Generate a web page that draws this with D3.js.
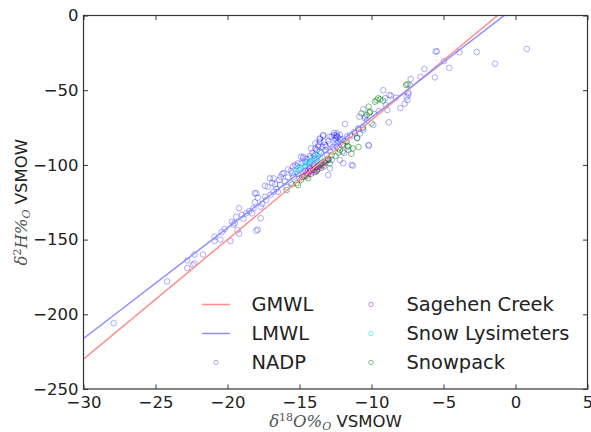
<!DOCTYPE html>
<html>
<head>
<meta charset="utf-8">
<script src="https://cdn.jsdelivr.net/npm/d3@7"></script>
<style>
	body { margin: 0; background: #fff; }
	text { font-family: "DejaVu Sans", sans-serif; }
</style>
</head>
<body>
<div id="chart-area"></div>
<script>

// NADP precipitation samples [d18O, d2H]
var nadp = [
	[-27.9,-206], [-24.2,-178], [-22.8,-169], [-22.8,-164], [-22.3,-160], [-22.3,-166],
	[-22.4,-167], [-21.7,-160], [-20.9,-148], [-20.9,-151], [-20.4,-145], [-20.5,-150],
	[-19.8,-151], [-19.6,-140], [-19.2,-146], [-19.7,-138], [-19.3,-143.6], [-19.2,-129],
	[-19.4,-134.7], [-19.0,-133.5], [-18.7,-132.4], [-18.3,-132.4], [-18.0,-144], [-17.9,-143.3],
	[-18.0,-119], [-17.7,-128], [-18.2,-129], [-17.7,-135.7], [-17.3,-123.5], [-17.05,-109],
	[-17.2,-114.6], [-17.4,-121.3], [-16.8,-117.9], [-17.4,-114], [-20.2,-143], [-19.5,-139],
	[-18.9,-136], [-18.5,-131], [-18.1,-125], [-17.6,-126], [-17.9,-122], [-17.0,-120],
	[-16.6,-116], [-16.9,-112], [-18.1,-119], [-16.1,-105.6], [-15.45,-101],
	[-16.35,-113.4], [-16.8,-109], [-16.2,-106], [-15.8,-108.3], [-15.4,-107.9], [-16.0,-111],
	[-15.6,-104], [-15.3,-100], [-15.0,-103.4], [-14.9,-94.5], [-14.85,-98.9], [-14.74,-94.5],
	[-14.27,-95.6], [-14.27,-97.9], [-15.6,-112], [-15.1,-106], [-14.6,-101], [-14.4,-104],
	[-15.9,-115], [-16.5,-118], [-14.0,-100], [-13.8,-96], [-15.1,-98.9], [-14.74,-95.6],
	[-14.27,-94], [-13.6,-82.9], [-13.35,-80], [-12.9,-81], [-13.7,-87.8], [-12.5,-82.2],
	[-12.4,-85.5], [-12.88,-91.1], [-11.96,-98.9], [-11.3,-100.5], [-13.0,-106.8], [-13.58,-82.2],
	[-13.23,-86.7], [-12.76,-96.7], [-12.2,-96.7], [-11.38,-100], [-12.88,-102.3], [-13.2,-90],
	[-13.5,-92], [-13.8,-90], [-14.0,-94], [-12.7,-88], [-12.3,-89], [-12.0,-86],
	[-11.8,-84], [-12.6,-78.5], [-13.0,-84], [-13.9,-85.5], [-14.2,-89], [-11.84,-72.6],
	[-12.2,-80], [-11.5,-80], [-11.2,-78], [-10.9,-76], [-11.0,-82], [-10.6,-75],
	[-12.4,-78.9], [-12.76,-81.1], [-13.35,-80.6], [-13.58,-84.5], [-13.16,-87.8], [-12.4,-81],
	[-12.45,-80.5], [-12.35,-81.5], [-12.5,-83.3], [-12.3,-84.5], [-12.4,-87.8], [-13.7,-86.7],
	[-13.9,-89], [-11.38,-80.6], [-10.9,-75.5], [-11.15,-78.9], [-10.57,-76.6], [-10.46,-68.8],
	[-10.2,-86.7], [-10.2,-87.1], [-10.57,-62.8], [-10.85,-67.7], [-10.45,-67.7], [-9.87,-73.3],
	[-8.8,-71.5], [-8.9,-63.3], [-8.0,-62], [-7.7,-59], [-7.5,-56.6], [-7.44,-52.8],
	[-7.56,-54.3], [-7.45,-51.7], [-8.76,-53.2], [-8.65,-53.7], [-9.18,-50], [-9.06,-55.4],
	[-7.28,-42.5], [-7.33,-46.7], [-6.58,-41], [-5.6,-41.4], [-6.33,-35.8], [-4.97,-30.5],
	[-4.6,-35], [-1.42,-32.3], [-5.55,-24.2], [-5.45,-23.9], [-3.9,-24.6], [-2.7,-24.4],
	[0.78,-22.4], [-9.5,-64], [-9.0,-60], [-8.3,-55], [-9.8,-66], [-10.3,-70],
	[-11.6,-90], [-11.9,-92], [-13.1,-93], [-14.5,-96], [-15.8,-103], [-16.4,-110],
	[-12.9,-86], [-13.4,-88], [-12.0,-83], [-11.7,-81], [-10.8,-79], [-14.1,-92],
	[-15.2,-101], [-16.7,-113], [-14.6,-98], [-14.3,-99.5], [-13.9,-93], [-13.3,-84.5],
	[-12.6,-80], [-12.2,-82.5], [-15.5,-105.5], [-16.3,-108], [-13.6,-91]
];

var sagehen = [
	[-14.8,-108], [-14.6,-107], [-14.5,-105.5], [-14.4,-106], [-14.3,-104.5], [-14.2,-104],
	[-14.1,-103], [-14.0,-103.5], [-13.9,-102], [-13.8,-101.5], [-13.8,-103.4], [-13.7,-100.5],
	[-13.6,-101], [-13.5,-99.5], [-13.4,-100], [-13.3,-98], [-13.2,-98.5], [-13.1,-97],
	[-13.0,-96.5], [-14.6,-104], [-14.0,-101], [-13.5,-102], [-14.2,-106], [-13.9,-104.5],
	[-15.0,-109]
];

var lysimeters = [
	[-15.3,-106], [-15.1,-104], [-14.9,-102.5], [-14.8,-101.5], [-14.6,-100.5], [-14.5,-99],
	[-14.3,-98], [-14.2,-97.5], [-14.0,-96], [-13.8,-95], [-13.7,-94], [-13.5,-92],
	[-14.4,-100], [-14.1,-98.5], [-13.6,-95], [-13.9,-96.5], [-15.0,-102]
];

var snowpack = [
	[-15.9,-116.8], [-15.2,-112.3], [-15.1,-113.5], [-15.5,-113], [-14.9,-110], [-14.7,-108],
	[-14.5,-107.5], [-14.27,-102.3], [-14.0,-105], [-13.8,-104], [-13.6,-100], [-13.46,-98.9],
	[-13.2,-97], [-13.0,-96], [-12.76,-93.4], [-12.5,-94], [-12.2,-90], [-12.0,-91],
	[-11.96,-86.7], [-11.72,-84.5], [-11.6,-87.8], [-11.3,-89], [-11.0,-82], [-10.6,-75],
	[-10.0,-72.2], [-10.33,-66.6], [-10.7,-65.5], [-10.2,-61], [-10.1,-64.4], [-10.15,-65],
	[-9.76,-57.7], [-9.53,-55.4], [-9.4,-56.1], [-9.2,-57], [-9.64,-56.6], [-7.6,-46.5],
	[-7.5,-46], [-12.9,-99], [-13.3,-101], [-14.4,-109], [-11.4,-92.5], [-10.9,-88],
	[-11.68,-87.3], [-12.3,-91.8], [-13.0,-96.7], [-13.7,-102.5]
];

// meteoric water lines: d2H = slope * d18O + intercept
var lineNames = ["GMWL", "LMWL"];
var lineSlopes = [8, 7.4];
var lineIntercepts = [10, 5.8];
var lineColors = ["#ff8f8f", "#8f8fff"];

var seriesNames = ["NADP", "Sagehen Creek", "Snow Lysimeters", "Snowpack"];
var seriesColors = ["rgba(0,0,255,0.32)", "rgba(191,0,191,0.5)", "rgba(0,230,230,0.5)", "rgba(0,128,0,0.5)"];
var seriesData = [nadp, sagehen, lysimeters, snowpack];

var xTicks = [-30, -25, -20, -15, -10, -5, 0, 5];
var yTicks = [0, -50, -100, -150, -200, -250];

var margin = { left: 83.5, right: 3.5, top: 15.5, bottom: 43 };
var width = 591 - margin.left - margin.right;
var height = 432 - margin.top - margin.bottom;

var svg = d3.select("#chart-area")
	.append("svg")
	.attr("width", 591)
	.attr("height", 432);

var g = svg.append("g")
	.attr("transform", "translate(" + margin.left + "," + margin.top + ")");

var x = d3.scaleLinear().domain([-30, 5]).range([0, width]);
var y = d3.scaleLinear().domain([-250, 0]).range([height, 0]);

g.append("clipPath").attr("id", "clip")
	.append("rect").attr("width", width).attr("height", height);

var tickFont = 16.5;

// axes, ticks pointing inward on all four sides
var xAxis = g.append("g")
	.attr("transform", "translate(0," + height + ")")
	.call(d3.axisBottom(x).tickValues(xTicks).tickSizeInner(-4.5).tickSizeOuter(0).tickPadding(7));
var yAxis = g.append("g")
	.call(d3.axisLeft(y).tickValues(yTicks).tickSizeInner(-4.5).tickSizeOuter(0).tickPadding(5));
g.append("g")
	.call(d3.axisTop(x).tickValues(xTicks).tickSizeInner(-4.5).tickSizeOuter(0).tickFormat(""));
g.append("g")
	.attr("transform", "translate(" + width + ",0)")
	.call(d3.axisRight(y).tickValues(yTicks).tickSizeInner(-4.5).tickSizeOuter(0).tickFormat(""));

g.selectAll(".domain").remove();
g.selectAll(".tick line").attr("stroke", "#333");
g.selectAll(".tick text")
	.attr("font-size", tickFont)
	.attr("font-family", "DejaVu Sans")
	.attr("fill", "#222");

// scatter series
var plot = g.append("g").attr("clip-path", "url(#clip)");

seriesData.forEach(function(data, i){
	plot.append("g")
		.selectAll("circle")
		.data(data)
		.enter()
		.append("circle")
		.attr("cx", function(d){ return x(d[0]); })
		.attr("cy", function(d){ return y(d[1]); })
		.attr("r", 2.8)
		.attr("fill", "none")
		.attr("stroke", seriesColors[i])
		.attr("stroke-width", 1);
});

// water lines above the points
lineNames.forEach(function(name, i){
	var ends = x.domain().map(function(v){
		return [v, lineSlopes[i] * v + lineIntercepts[i]];
	});
	plot.append("line")
		.attr("x1", x(ends[0][0]))
		.attr("y1", y(ends[0][1]))
		.attr("x2", x(ends[1][0]))
		.attr("y2", y(ends[1][1]))
		.attr("stroke", lineColors[i])
		.attr("stroke-width", 1.5);
});

// frame
g.append("rect")
	.attr("width", width)
	.attr("height", height)
	.attr("fill", "none")
	.attr("stroke", "#333")
	.attr("stroke-width", 1.2);

// legend (two columns, no frame)
var legendFont = 19.4;
var rowHeight = 29;
var legendItems = [
	{ name: lineNames[0], type: "line", color: lineColors[0] },
	{ name: lineNames[1], type: "line", color: lineColors[1] },
	{ name: seriesNames[0], type: "dot", color: seriesColors[0] },
	{ name: seriesNames[1], type: "dot", color: seriesColors[1] },
	{ name: seriesNames[2], type: "dot", color: seriesColors[2] },
	{ name: seriesNames[3], type: "dot", color: seriesColors[3] }
];
var colX = [202, 357];

var legend = svg.append("g");
legendItems.forEach(function(item, i){
	var col = Math.floor(i / 3);
	var row = i % 3;
	var row_g = legend.append("g")
		.attr("transform", "translate(" + colX[col] + "," + (304.5 + row * rowHeight) + ")");
	if (item.type == "line") {
		row_g.append("line")
			.attr("x1", 0).attr("x2", 28)
			.attr("stroke", item.color)
			.attr("stroke-width", 1.5);
	} else {
		row_g.append("circle")
			.attr("cx", 14)
			.attr("r", 2.2)
			.attr("fill", "none")
			.attr("stroke", item.color)
			.attr("stroke-width", 1);
	}
	row_g.append("text")
		.attr("x", 49.5)
		.attr("y", 0.36 * legendFont)
		.attr("font-size", legendFont)
		.attr("fill", "#222")
		.text(item.name);
});

// axis labels with mathtext-like parts
var mathFont = "DejaVu Serif";
var xLabel = svg.append("text")
	.attr("x", margin.left + width / 2)
	.attr("y", 427)
	.attr("text-anchor", "middle")
	.attr("font-size", 16.5)
	.attr("fill", "#222");
xLabel.append("tspan").attr("font-family", mathFont).attr("font-style", "italic").attr("fill", "#555").text("δ");
xLabel.append("tspan").attr("font-family", mathFont).attr("font-size", 11).attr("dy", -6).attr("fill", "#555").text("18");
xLabel.append("tspan").attr("font-family", mathFont).attr("font-style", "italic").attr("dy", 6).attr("fill", "#555").text("O%");
xLabel.append("tspan").attr("font-family", mathFont).attr("font-style", "italic").attr("font-size", 11).attr("dy", 3).attr("fill", "#555").text("O");
xLabel.append("tspan").attr("dy", -3).text(" VSMOW");

var yLabel = svg.append("text")
	.attr("transform", "translate(27," + (margin.top + height / 2) + ") rotate(-90)")
	.attr("text-anchor", "middle")
	.attr("font-size", 16.5)
	.attr("fill", "#222");
yLabel.append("tspan").attr("font-family", mathFont).attr("font-style", "italic").attr("fill", "#555").text("δ");
yLabel.append("tspan").attr("font-family", mathFont).attr("font-size", 11).attr("dy", -6).attr("fill", "#555").text("2");
yLabel.append("tspan").attr("font-family", mathFont).attr("font-style", "italic").attr("dy", 6).attr("fill", "#555").text("H%");
yLabel.append("tspan").attr("font-family", mathFont).attr("font-style", "italic").attr("font-size", 11).attr("dy", 3).attr("fill", "#555").text("O");
yLabel.append("tspan").attr("dy", -3).text(" VSMOW");

</script>
</body>
</html>
